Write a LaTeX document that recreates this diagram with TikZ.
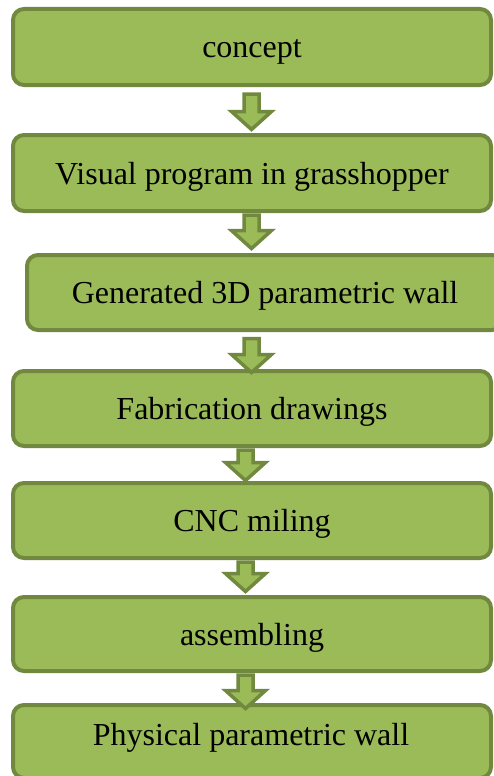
\documentclass[tikz,border=0pt]{standalone}
\usepackage{fontspec}
\setmainfont{Liberation Serif}
\usetikzlibrary{calc}
\definecolor{stepfill}{HTML}{9BBB59}
\definecolor{stepline}{HTML}{71893F}
\tikzset{
  steptext/.style={text=black, font=\fontsize{32}{38}\selectfont,
    text height=27pt, text depth=5pt, inner sep=0pt},
  stepbox/.style={steptext, draw=stepline, fill=stepfill, line width=4pt,
    rounded corners=11pt, minimum width=478pt},
  arrowbody/.style={draw=stepline, fill=stepfill, line width=3.5pt, line join=miter}
}
% block arrow: from node, to node, x offset, gap below source, tip shift into target
\newcommand\steparrow[5]{%
  \draw[arrowbody] let \p1=($(#1.south)+(#3,#4)$), \p2=($(#2.north)+(0,#5)$) in
    (\x1-7.5pt,\y1) -- (\x1+7.5pt,\y1) -- (\x1+7.5pt,\y2+18pt) -- (\x1+20pt,\y2+18pt)
    -- (\x1,\y2) -- (\x1-20pt,\y2+18pt) -- (\x1-7.5pt,\y2+18pt) -- cycle;}
\begin{document}
\begin{tikzpicture}[x=1pt,y=-1pt]
  \useasboundingbox (0,0) rectangle (494,776);
  \clip (0,0) rectangle (494,776);
  \fill[white] (0,0) rectangle (494,776);

  \node[stepbox, minimum height=76pt] (b1) at (252,47) {concept};
  \node[stepbox, minimum height=76pt] (b2) at (252,173) {Visual program in grasshopper};
  \node[stepbox, minimum height=75pt, minimum width=476pt] (b3) at (265,292.5) {Generated 3D parametric wall};
  \node[stepbox, minimum height=75pt] (b4) at (252,408.5) {Fabrication drawings};
  \node[stepbox, minimum height=75pt] (b5) at (252,520.5) {CNC miling};
  \node[stepbox, minimum height=74pt] (b6) at (252,634) {assembling};
  \node[stepbox, minimum height=73pt] (b7) at (252,741.5) {};
  \node[steptext] (t7) at (251,734) {Physical parametric wall};

  \steparrow{b1}{b2}{-0.5}{7}{-3.5}
  \steparrow{b2}{b3}{-0.5}{2}{-4.5}
  \steparrow{b3}{b4}{-13.5}{6.5}{3.5}
  \steparrow{b4}{b5}{-6.5}{2}{-0.5}
  \steparrow{b5}{b6}{-6.5}{2}{-3.5}
  \steparrow{b6}{b7}{-6.5}{2}{5.5}
\end{tikzpicture}
\end{document}
